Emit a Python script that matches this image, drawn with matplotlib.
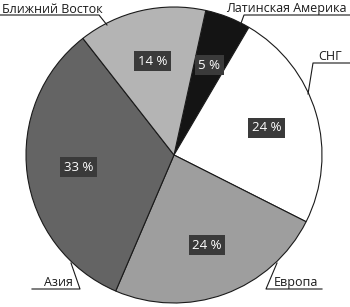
import matplotlib
matplotlib.use("Agg")
import matplotlib.pyplot as plt

# ================= DATA =================

regions = ["Латинская Америка", "СНГ", "Европа", "Азия", "Ближний Восток"]
shares = [5, 24, 24, 33, 14]
colors = ["#141414", "#ffffff", "#9e9e9e", "#646464", "#b4b4b4"]

# ================= LAYOUT (pixels) =================

W, H = 350, 307
CX, CY, R = 174, 155, 148

# label text: (x, baseline y, ha), leader polyline points
label_layout = {
    "Ближний Восток": ((2, 13, "left"), [(0, 15), (99, 15), (107, 25)]),
    "Латинская Америка": ((347, 12, "right"), [(350, 15), (244, 15), (240, 26)]),
    "СНГ": ((342, 60, "right"), [(350, 63), (313, 63), (308, 94)]),
    "Европа": ((274, 286, "left"), [(322, 289), (266, 289), (277, 263)]),
    "Азия": ((73, 286, "right"), [(32, 289), (80, 289), (71, 263)]),
}


def to_data(x, y):
    return (x - CX) / R, (CY - y) / R


# ================= PLOT =================

def main():
    plt.rcParams["font.family"] = ["Open Sans", "DejaVu Sans"]

    fig = plt.figure(figsize=(W / 100, H / 100), dpi=100)
    ax = fig.add_axes([0, 0, 1, 1])

    wedges, _, autotexts = ax.pie(
        shares,
        colors=colors,
        startangle=77.6,
        counterclock=False,
        radius=1,
        autopct=lambda p: f"{p:.0f} %",
        pctdistance=0.65,
        wedgeprops=dict(edgecolor="#1a1a1a", linewidth=0.8),
        textprops=dict(color="white", fontsize=9.5),
    )
    for t in autotexts:
        t.set_bbox(dict(facecolor="#3a3a3a", edgecolor="none", pad=2.6))

    for name in regions:
        (tx, ty, ha), pts = label_layout[name]
        x, y = to_data(tx, ty)
        ax.text(x, y, name, ha=ha, va="baseline", fontsize=9, color="#1a1a1a")
        xs, ys = zip(*[to_data(px, py) for px, py in pts])
        ax.plot(xs, ys, color="#1a1a1a", linewidth=0.8)

    x0, _ = to_data(0, 0)
    x1, _ = to_data(W, 0)
    _, y0 = to_data(0, H)
    _, y1 = to_data(0, 0)
    ax.set_xlim(x0, x1)
    ax.set_ylim(y0, y1)
    ax.set_aspect("equal")
    ax.axis("off")

    fig.savefig("out.png", dpi=100)


if __name__ == "__main__":
    main()
